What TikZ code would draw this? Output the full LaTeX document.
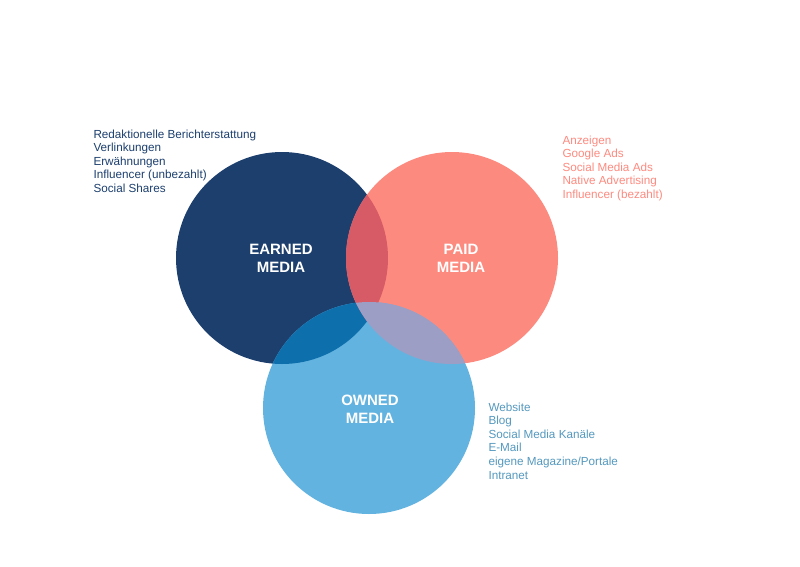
\documentclass[tikz,border=0pt]{standalone}
\usepackage{fontspec}
\setmainfont{Liberation Sans}
\definecolor{earned}{HTML}{1C3F6E}
\definecolor{paid}{HTML}{FD8A7F}
\definecolor{owned}{HTML}{63B3E0}
\definecolor{earnedowned}{HTML}{0E6FAD}
\definecolor{earnedpaid}{HTML}{D65B66}
\definecolor{paidowned}{HTML}{9C9EC6}
\begin{document}
\begin{tikzpicture}[x=1pt,y=-1pt,
  title/.style={white, font=\fontsize{15}{18}\selectfont\bfseries, align=center},
  list/.style={font=\fontsize{11.7}{13.6}\selectfont, align=left, anchor=north west}]
\useasboundingbox (0,0) rectangle (800,566);

\coordinate (ce) at (282,258);
\coordinate (cp) at (452,258);
\coordinate (co) at (369,408);
\def\rad{106}

\fill[earned] (ce) circle (\rad);
\fill[paid] (cp) circle (\rad);
\fill[owned] (co) circle (\rad);
\begin{scope}
  \clip (ce) circle (\rad);
  \fill[earnedowned] (co) circle (\rad);
  \fill[earnedpaid] (cp) circle (\rad);
\end{scope}
\begin{scope}
  \clip (cp) circle (\rad);
  \fill[paidowned] (co) circle (\rad);
\end{scope}

\node[title] (earnedlbl) at (281,258) {EARNED\\MEDIA};
\node[title] (paidlbl) at (461,258) {PAID\\MEDIA};
\node[title] (ownedlbl) at (370,409) {OWNED\\MEDIA};

\node[list, earned] (earnedlist) at (90,126) {Redaktionelle Berichterstattung\\Verlinkungen\\Erwähnungen\\Influencer (unbezahlt)\\Social Shares};
\node[list, paid] (paidlist) at (559,132) {Anzeigen\\Google Ads\\Social Media Ads\\Native Advertising\\Influencer (bezahlt)};
\node[list, owned!85!black] (ownedlist) at (485,399) {Website\\Blog\\Social Media Kanäle\\E-Mail\\eigene Magazine/Portale\\Intranet};
\end{tikzpicture}
\end{document}
